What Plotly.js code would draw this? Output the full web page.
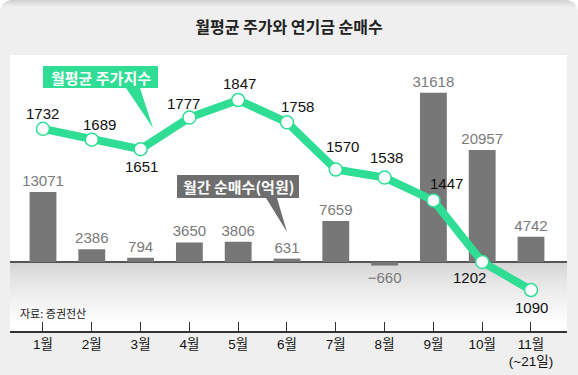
<!DOCTYPE html>
<html><head><meta charset="utf-8">
<script src="https://cdn.plot.ly/plotly-3.0.1.min.js"></script>
<style>
html,body{margin:0;padding:0;background:#fff;}
#wrap{position:relative;width:578px;height:375px;border-radius:12px 12px 0 0;overflow:hidden;}
#chart{width:578px;height:375px;}
#shade{position:absolute;left:0;top:0;width:578px;height:7px;background:linear-gradient(rgba(0,0,0,0.13),rgba(0,0,0,0));pointer-events:none;}
</style></head><body>
<div id="wrap"><div id="chart"></div><div id="shade"></div></div>
<script>
// ---- data ----
const months = ['1월','2월','3월','4월','5월','6월','7월','8월','9월','10월','11월<br>(~21일)'];
const netBuy = [13071, 2386, 794, 3650, 3806, 631, 7659, -660, 31618, 20957, 4742];
const stockIndex = [1732, 1689, 1651, 1777, 1847, 1758, 1570, 1538, 1447, 1202, 1090];

// ---- style (label offsets in px) ----
const labelDx = [0, 8, 1, -6, 1, 11, 7, 2, 13, -13, 1];
const labelDy = [15, 15, -17, 14, 17, 16, 23, 20, 17, -16, -17];

const W = 578, H = 375;
const L = 10, R = 11, T = 55, B = 44;
const PW = W - L - R, PH = H - T - B;
const px = x => (x - L) / PW;
const py = y => (H - B - y) / PH;

const numFont = 'Liberation Sans, Arial, "Noto Sans CJK KR", sans-serif';
const korFont = '"Noto Sans CJK KR", "Noto Sans", sans-serif';
const green = '#2fdd95';

const xs = months.map((_, i) => i);

const traces = [
  {
    type: 'bar', x: xs, y: netBuy, width: 0.55,
    marker: {color: '#777777'},
    text: netBuy.map(v => v < 0 ? '−' + Math.abs(v) : String(v)),
    textposition: 'outside', constraintext: 'none', cliponaxis: false,
    textfont: {family: numFont, size: 15, color: '#7a7a7a'},
    hoverinfo: 'skip'
  },
  {
    type: 'scatter', mode: 'lines+markers', x: xs, y: stockIndex, yaxis: 'y2',
    line: {color: green, width: 8},
    marker: {size: 13, color: '#ffffff', line: {color: green, width: 1.5}},
    cliponaxis: false, hoverinfo: 'skip'
  }
];

const annotations = stockIndex.map((v, i) => ({
  x: i, y: v, xref: 'x', yref: 'y2', text: String(v), showarrow: false,
  xanchor: 'center', yanchor: 'middle',
  xshift: labelDx[i], yshift: labelDy[i],
  font: {family: numFont, size: 15, color: '#111'}
}));

annotations.push({
  xref: 'paper', yref: 'paper', x: px(100.5), y: py(77), xanchor: 'center', yanchor: 'middle',
  text: '<b>월평균 주가지수</b>',
  showarrow: false, font: {family: korFont, size: 15, color: '#ffffff'}
});
annotations.push({
  xref: 'paper', yref: 'paper', x: px(238), y: py(186.5), xanchor: 'center', yanchor: 'middle',
  text: '<b>월간 순매수(억원)</b>',
  showarrow: false, font: {family: korFont, size: 15, color: '#ffffff'}
});
annotations.push({
  xref: 'paper', yref: 'paper', x: px(18), y: py(313), xanchor: 'left', yanchor: 'middle',
  text: '자료: 증권전산',
  showarrow: false, font: {family: korFont, size: 11, color: '#222'}
});

function path(pts) {
  return 'M' + pts.map(p => px(p[0]) + ',' + py(p[1])).join(' L') + ' Z';
}

const shapes = [];
// gradient below zero line
const g0 = 263, g1 = 326, steps = 21;
for (let k = 0; k < steps; k++) {
  const y0 = g0 + (g1 - g0) * k / steps, y1 = g0 + (g1 - g0) * (k + 1) / steps;
  const c = Math.round(214 + (255 - 214) * Math.pow(k / (steps - 1), 0.8));
  shapes.push({type: 'rect', xref: 'paper', yref: 'paper', x0: 0, x1: 1, y0: py(y1), y1: py(y0),
    fillcolor: `rgb(${c},${c},${c})`, line: {width: 0}, layer: 'below'});
}
shapes.push({type: 'path', xref: 'paper', yref: 'paper', layer: 'above',
  path: path([[43,66],[158,66],[158,88],[140,88],[153,128],[126,88],[43,88]]),
  fillcolor: green, line: {width: 0}});
shapes.push({type: 'path', xref: 'paper', yref: 'paper', layer: 'above',
  path: path([[177,175],[299,175],[299,198],[277,198],[287,232],[266,198],[177,198]]),
  fillcolor: '#6e6e6e', line: {width: 0}});

const layout = {
  width: W, height: H,
  margin: {l: L, r: R, t: T, b: B, pad: 0},
  paper_bgcolor: '#efefef', plot_bgcolor: '#ffffff',
  showlegend: false,
  title: {text: '<b>월평균 주가와 연기금 순매수</b>', x: 0.5, xanchor: 'center', y: 1 - 27 / H, yanchor: 'middle',
    font: {family: korFont, size: 16, color: '#222'}},
  xaxis: {range: [-0.676, 10.738], tickvals: xs, ticktext: months, ticks: 'inside', ticklen: 9,
    tickcolor: '#333', tickwidth: 1, showline: true, linecolor: '#333', linewidth: 1.5,
    showgrid: false, zeroline: false, fixedrange: true,
    tickfont: {family: numFont, size: 13.5, color: '#111'}},
  yaxis: {range: [-12897, 38692], showticklabels: false, showgrid: false, ticks: '',
    zeroline: true, zerolinecolor: '#555', zerolinewidth: 1.5, showline: false, fixedrange: true},
  yaxis2: {range: [926.7, 2026.3], overlaying: 'y', showticklabels: false, showgrid: false,
    ticks: '', zeroline: false, showline: false, fixedrange: true},
  annotations: annotations,
  shapes: shapes
};

Plotly.newPlot('chart', traces, layout, {displayModeBar: false, staticPlot: true});
</script>
</body></html>
